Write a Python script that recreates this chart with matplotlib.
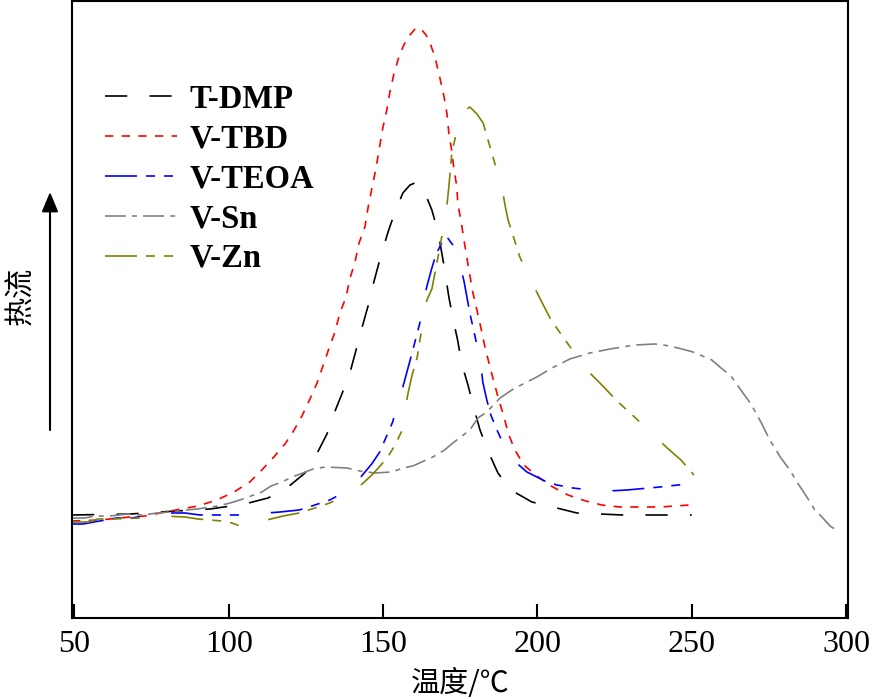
import matplotlib
matplotlib.use("Agg")
import matplotlib.pyplot as plt
from matplotlib.font_manager import FontProperties

# DSC curves, heat flow in arbitrary units
tdmp_t = [49.2, 68.0, 77.7, 93.9, 105.2, 112.7, 118.8, 124.7, 128.5, 131.8, 134.3,
          136.9, 139.5, 141.5, 143.4, 145.4, 147.0, 149.0, 151.6, 153.5, 156.4, 158.7,
          160.3, 162.6, 165.8, 167.8, 169.7, 171.3, 172.6, 174.2, 175.5, 177.5, 179.4,
          181.4, 184.0, 187.2, 191.4, 198.2, 205.0, 212.8, 220.3, 227.7, 234.8, 242.3,
          250.0]
tdmp_h = [103, 104, 106, 109, 114, 120, 130, 145, 164, 184, 206,
          226, 248, 271, 293, 315, 336, 359, 386, 403, 425, 433,
          435, 432, 408, 386, 353, 321, 300, 277, 254, 233, 210,
          188, 167, 145, 128, 116, 111, 105, 104, 103, 103, 103,
          103]

tbd_t = [49.2, 58.2, 68.0, 72.8, 84.5, 90.0, 96.1, 101.7, 106.8, 110.7, 114.6,
         118.2, 120.8, 123.7, 126.3, 128.6, 130.5, 132.5, 134.4, 136.0, 138.0, 139.2,
         140.9, 142.2, 144.1, 145.1, 146.4, 147.7, 148.9, 149.9, 151.2, 152.2, 153.5,
         155.1, 156.7, 158.7, 160.6, 162.3, 163.9, 165.2, 166.8, 168.4, 169.7, 170.7,
         171.3, 172.3, 172.9, 173.9, 174.2, 175.2, 176.2, 177.1, 178.1, 179.1, 180.4,
         181.7, 183.0, 184.3, 185.9, 187.5, 189.2, 190.5, 192.7, 195.6, 199.8, 204.4,
         209.9, 215.7, 220.9, 226.7, 239.7, 249.4, 251.0]
tbd_h = [97, 98, 101, 102, 109, 112, 118, 126, 136, 148, 161,
         174, 186, 202, 219, 235, 252, 270, 286, 305, 321, 339,
         356, 375, 391, 410, 430, 450, 472, 490, 508, 526, 544,
         561, 573, 583, 590, 589, 583, 575, 561, 540, 522, 504,
         485, 466, 450, 431, 414, 398, 378, 361, 343, 325, 308,
         290, 271, 255, 236, 218, 201, 185, 168, 153, 142, 132,
         123, 117, 113, 111, 111, 113, 114]

teoa_t = [49.2, 52.7, 58.2, 63.7, 68.6, 77.7, 85.8, 90.7, 99.7, 105.9, 110.7,
          112.3, 116.6, 122.8, 127.9, 132.7, 138.3, 142.5, 146.3, 148.9, 153.1, 154.8,
          156.4, 159.3, 161.9, 162.9, 164.2, 165.8, 167.1, 169.1, 170.7, 172.6, 174.2,
          175.5, 176.2, 178.1, 180.4, 181.7, 182.3, 183.6, 184.9, 186.9, 188.8, 192.1,
          196.6, 202.4, 206.3, 211.5, 217.0, 222.8, 229.0, 239.7, 245.5, 251.0]
teoa_h = [94, 94, 97, 100, 100, 105, 105, 103, 103, 103, 104,
          105, 106, 108, 113, 118, 127, 140, 154, 166, 196, 215,
          231, 264, 295, 313, 332, 350, 363, 376, 381, 373, 364,
          346, 337, 305, 273, 253, 236, 218, 203, 188, 175, 158,
          146, 137, 133, 130, 128, 127, 128, 131, 133, 134]

sn_t = [49.2, 53.4, 56.6, 61.5, 67.3, 72.5, 76.7, 80.9, 86.4, 89.7, 96.5,
        100.4, 103.6, 107.2, 110.7, 113.7, 117.2, 120.5, 124.0, 127.3, 131.2, 138.3,
        142.5, 147.3, 152.8, 156.4, 159.6, 166.1, 169.9, 172.6, 178.1, 180.7, 183.6,
        187.9, 191.7, 194.7, 199.8, 204.7, 210.5, 217.0, 223.5, 231.6, 238.1, 243.0,
        246.8, 250.4, 256.5, 259.5, 262.7, 266.6, 269.2, 272.4, 275.3, 278.9, 281.8,
        284.1, 287.3, 289.9, 292.2, 294.8, 297.3]
sn_h = [100, 100, 102, 102, 104, 103, 105, 106, 108, 109, 112,
        115, 118, 122, 126, 132, 136, 141, 145, 149, 151, 150,
        147, 145, 146, 150, 152, 161, 168, 175, 188, 200, 206,
        220, 228, 233, 241, 250, 259, 265, 269, 273, 274, 272,
        269, 266, 258, 250, 242, 225, 214, 196, 178, 160, 148,
        136, 121, 108, 101, 92, 87]

zn_t = [49.2, 54.4, 57.6, 62.5, 71.2, 79.3, 85.8, 90.0, 93.9, 97.8, 101.0,
        103.6, 107.2, 109.8, 111.4, 112.3, 117.6, 122.8, 127.9, 132.7, 136.0, 138.9,
        142.5, 146.7, 151.3, 153.9, 156.2, 156.5, 158.1, 159.4, 161.0, 163.6, 164.2,
        165.8, 167.8, 169.1, 170.1, 170.7, 171.3, 172.3, 173.6, 174.6, 175.8, 178.1,
        180.4, 182.4, 185.3, 188.5, 189.5, 190.5, 194.3, 198.6, 204.4, 210.6, 217.0,
        221.5, 225.8, 233.9, 241.7, 246.5, 250.7]
zn_h = [96, 96, 99, 99, 100, 102, 101, 99, 98, 97, 95,
        92, 90, 93, 97, 98, 102, 105, 110, 115, 120, 125,
        132, 144, 160, 173, 188, 198, 225, 243, 260, 310, 318,
        329, 361, 383, 403, 413, 431, 466, 483, 498, 506, 511,
        504, 495, 464, 431, 413, 398, 361, 333, 298, 271, 245,
        231, 217, 194, 171, 158, 143]

names = ["T-DMP", "V-TBD", "V-TEOA", "V-Sn", "V-Zn"]
colors = ["black", "#ff0000", "#0000ff", "#808080", "#808000"]
dashes = [(16, 16), (6, 6), (23, 6.5, 6.5, 6.5, 6.5, 23),
          (15, 4.5, 3.5, 4.5), (23, 6.5, 6.5, 6.5, 6.5, 23)]

plt.rcParams["lines.scale_dashes"] = False

fig = plt.figure(figsize=(8.79, 6.99), dpi=100)
W, H = 879, 699
ax = fig.add_axes([72 / W, 81 / H, 775.6 / W, 617 / H])

series = [(tdmp_t, tdmp_h), (tbd_t, tbd_h), (teoa_t, teoa_h),
          (sn_t, sn_h), (zn_t, zn_h)]
for (t, h), name, c, d in zip(series, names, colors, dashes):
    ax.plot(t, h, color=c, lw=1.2, dashes=d, label=name)

ax.set_xlim(49.2, 300.5)
ax.set_ylim(0, 617)
ax.set_xticks([50, 100, 150, 200, 250, 300])
ax.set_yticks([])
ax.tick_params(axis="x", direction="in", length=10, width=1.5, pad=9,
               labelsize=23)
for lab in ax.get_xticklabels():
    lab.set_family("Liberation Serif")
for sp in ax.spines.values():
    sp.set_linewidth(1.5)

ax.set_xlabel("温度/℃", family=["Noto Sans CJK SC", "DejaVu Sans"],
              fontsize=21)
ax.xaxis.set_label_coords(0.5, -0.082)

leg_font = FontProperties(family="Liberation Serif", weight="bold", size=23.5)
ax.legend(loc="upper left", bbox_to_anchor=(0.0425, 0.866), frameon=False,
          prop=leg_font, handlelength=2.2, handletextpad=0.4,
          labelspacing=0.27, borderpad=0, borderaxespad=0)

# heat-flow arrow on the left side
ax.annotate("", xy=(50, H - 192), xycoords="figure pixels",
            xytext=(50, H - 430), textcoords="figure pixels",
            arrowprops=dict(arrowstyle="-|>,head_length=0.6,head_width=0.25",
                            mutation_scale=20, lw=1.5, color="black",
                            shrinkA=0, shrinkB=0))
fig.text(21 / W, 1 - 296 / H, "热流", rotation=90, ha="center", va="center",
         family=["Noto Sans CJK SC", "DejaVu Sans"], fontsize=21)

fig.savefig("out.png", dpi=100)
